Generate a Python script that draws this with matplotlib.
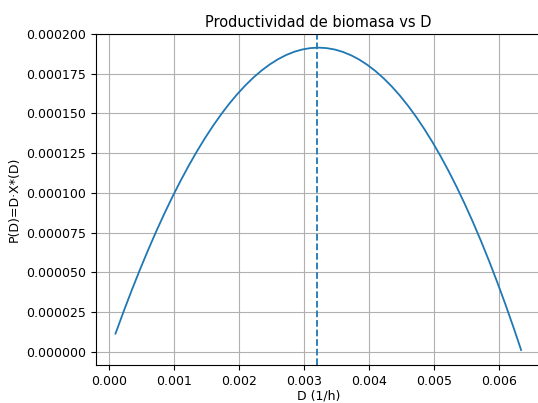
import numpy as np
import matplotlib
matplotlib.use("Agg")
import matplotlib.pyplot as plt

# Values
D_vals = np.array([0.0001, 0.000225, 0.00035, 0.000475, 0.0006, 0.000725, 0.00085,
                   0.000975, 0.0011, 0.001225, 0.00135, 0.001475, 0.0016, 0.001725,
                   0.00185, 0.001975, 0.0021, 0.002225, 0.00235, 0.002475, 0.0026,
                   0.002725, 0.00285, 0.002975, 0.0031, 0.003225, 0.00335, 0.003475,
                   0.0036, 0.003725, 0.00385, 0.003975, 0.0041, 0.004225, 0.00435,
                   0.004475, 0.0046, 0.004725, 0.00485, 0.004975, 0.0051, 0.005225,
                   0.00535, 0.005475, 0.0056, 0.005725, 0.00585, 0.005975, 0.0061,
                   0.006225, 0.00634])
P_vals = np.array([11.54, 25.47, 38.85, 51.68, 63.97, 75.70, 86.88, 97.50, 107.57,
                   117.07, 126.01, 134.39, 142.20, 149.45, 156.13, 162.24, 167.76,
                   172.72, 177.10, 180.90, 184.12, 186.76, 188.81, 190.26, 191.13,
                   191.41, 191.10, 190.20, 188.69, 186.59, 183.88, 180.57, 176.65,
                   172.12, 166.99, 161.24, 154.87, 147.89, 140.29, 132.07, 123.23,
                   113.76, 103.66, 92.93, 81.57, 69.57, 56.94, 43.67, 29.76, 15.20,
                   1.24]) * 1e-6
D_opt = 0.0032

x_ticks = [0.000, 0.001, 0.002, 0.003, 0.004, 0.005, 0.006]
y_ticks = [0.0, 0.000025, 0.00005, 0.000075, 0.0001, 0.000125, 0.00015, 0.000175, 0.0002]

fig = plt.figure(figsize=(5.38, 4.03), dpi=100)
ax = fig.add_axes([96 / 538, 38 / 403, 445 / 538, 331.5 / 403])

ax.plot(D_vals, P_vals, color='#1f77b4', lw=1.3)
ax.axvline(D_opt, color='#1f77b4', linestyle='--', lw=1.3)

ax.set_xlim(-0.0002, 0.006646)
ax.set_ylim(-8.2e-6, 0.0002003)
ax.set_xticks(x_ticks)
ax.set_xticklabels([f'{v:.3f}' for v in x_ticks])
ax.set_yticks(y_ticks)
ax.set_yticklabels([f'{v:.6f}' for v in y_ticks])
ax.tick_params(labelsize=9)
ax.spines['right'].set_visible(False)

ax.set_xlabel('D (1/h)', fontsize=9, labelpad=1)
ax.set_ylabel('P(D)=D·X*(D)', fontsize=9)
ax.set_title('Productividad de biomasa vs D', fontsize=10.5, pad=5)
ax.grid(True)

fig.savefig('out.png', dpi=100)
